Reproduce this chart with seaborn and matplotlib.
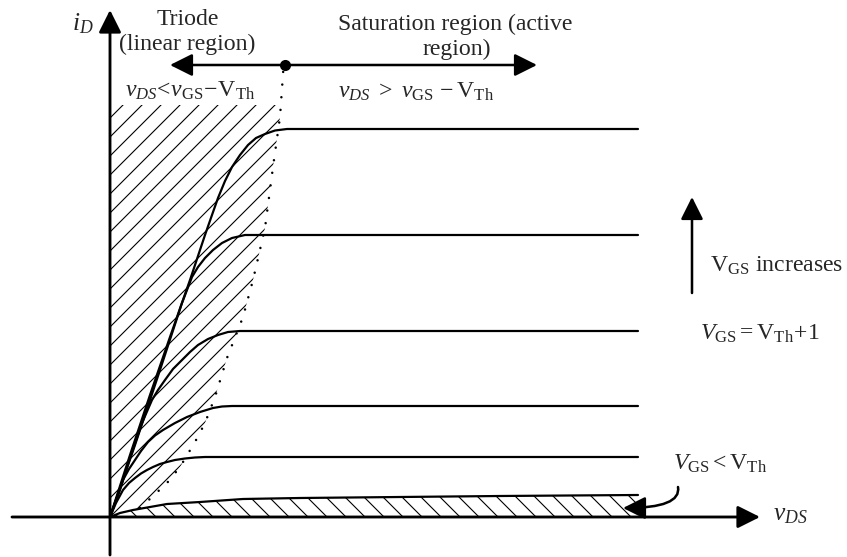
import numpy as np
import pandas as pd
import matplotlib
matplotlib.use("Agg")
import matplotlib.pyplot as plt
import seaborn as sns

# ---- data (arbitrary units: v_DS horizontal, i_D vertical) ----
curve_names = ["c1", "c2", "c3", "c4", "c5", "cutoff"]
c1_v = [0, 20, 40, 60, 80, 95, 102, 108, 115, 122, 130, 138, 146, 155, 165, 177, 528]
c1_i = [0, 62, 122, 180, 237, 282, 302, 319, 336, 350, 362, 372, 379, 383, 386.5, 388, 388]
c2_v = [0, 25, 50, 72, 82, 88, 95, 103, 112, 122, 135, 145, 528]
c2_i = [0, 72, 147, 214, 240, 250, 259, 267, 274, 279, 282, 282, 282]
c3_v = [0, 10, 20, 32, 42, 48, 55, 63, 72, 80, 88, 98, 108, 118, 130, 528]
c3_i = [0, 27, 59, 94, 117, 127, 137, 148, 157, 165, 172, 178, 182, 185, 186, 186]
c4_v = [0, 6, 13, 19, 25, 31, 38, 45, 53, 65, 77, 90, 103, 112, 122, 528]
c4_i = [0, 17, 37, 48, 57, 66, 75, 81.5, 87, 94, 100, 105, 109, 110.5, 111, 111]
c5_v = [0, 6, 13, 19, 25, 31, 37, 43, 50, 57, 65, 75, 85, 95, 105, 528]
c5_i = [0, 14, 27, 34, 39, 43.5, 47, 50, 53, 55, 57, 58.5, 59.5, 60, 60, 60]
cut_v = [0, 10, 23, 40, 57, 90, 133, 190, 290, 390, 528]
cut_i = [0, 4, 7, 10, 13, 15, 18, 19, 20, 21, 22]

# boundary v_DS = v_GS - V_Th (dotted)
bnd_v = [30, 42, 57, 70, 85, 95, 105, 117, 133, 143, 155, 163, 170, 174]
bnd_i = [9, 20, 34, 50, 75, 94, 120, 159, 200, 237, 289, 350, 400, 457]

# triode hatched region outline
tri_v = [0, 30, 42, 57, 70, 85, 95, 105, 117, 133, 143, 155, 163, 170, 172, 0]
tri_i = [0, 9, 20, 34, 50, 75, 94, 120, 159, 200, 237, 289, 350, 400, 412, 412]

rows = []
for name, vs, ids in zip(curve_names,
                         [c1_v, c2_v, c3_v, c4_v, c5_v, cut_v],
                         [c1_i, c2_i, c3_i, c4_i, c5_i, cut_i]):
    for k, (v, i) in enumerate(zip(vs, ids)):
        rows.append({"curve": name, "order": k, "vds": v, "id": i})
df = pd.DataFrame(rows)

# ---- style ----
sns.set_theme(style="white")
plt.rcParams["font.family"] = ["Liberation Serif", "DejaVu Serif"]
plt.rcParams["mathtext.fontset"] = "custom"
plt.rcParams["mathtext.rm"] = "Liberation Serif"
plt.rcParams["mathtext.it"] = "Liberation Serif:italic"
plt.rcParams["mathtext.bf"] = "Liberation Serif:bold"
plt.rcParams["hatch.linewidth"] = 0.7
plt.rcParams["hatch.color"] = "black"

DPI = 114
fig = plt.figure(figsize=(847 / DPI, 557 / DPI), dpi=DPI, facecolor="white")
ax = fig.add_axes([0, 0, 1, 1])

# hatched regions
ax.fill(tri_v, tri_i, facecolor="none", edgecolor="black", linewidth=0,
        hatch="//")
ax.fill_between(cut_v, 0, cut_i, facecolor="none", edgecolor="black",
                linewidth=0, hatch="\\\\")

# characteristic curves
sns.lineplot(data=df, x="vds", y="id", units="curve", estimator=None,
             sort=False, color="black", linewidth=1.4, ax=ax, legend=False)

# dotted boundary
ax.plot(bnd_v, bnd_i, color="black", linewidth=1.6,
        linestyle=(0, (0.01, 5)), dash_capstyle="round")

ax.set_xlim(-110, 737)
ax.set_ylim(-40, 517)
ax.axis("off")

def arrow(x0, y0, x1, y1, lw=1.6, hl=1.2, hw=0.6, conn=None):
    props = dict(arrowstyle=f"-|>,head_length={hl},head_width={hw}",
                 color="black", lw=lw, shrinkA=0, shrinkB=0,
                 mutation_scale=10)
    if conn is not None:
        props["connectionstyle"] = conn
    ax.annotate("", xy=(x1, y1), xytext=(x0, y0), arrowprops=props)

# axes
arrow(-98, 0, 650, 0, lw=1.8)
arrow(0, -38, 0, 507, lw=1.8)

# region arrows
arrow(175, 452, 60, 452, lw=1.6)
arrow(175, 452, 427, 452, lw=1.6)
ax.plot([175], [452], "o", color="black", markersize=6)

# V_GS increases arrow
arrow(582, 224, 582, 320, lw=1.6)

# curved arrow to cutoff
arrow(568, 30, 513, 9, lw=1.6, conn="angle3,angleA=100,angleB=0")

fs = 15
ax.text(-38, 487, r"$i_D$", fontsize=fs + 1, ha="left", va="baseline")
ax.text(78, 492, "Triode", fontsize=fs, ha="center", va="baseline")
ax.text(77, 467, "(linear region)", fontsize=fs, ha="center", va="baseline")
ax.text(228, 487, "Saturation region (active", fontsize=fs, ha="left",
        va="baseline")
ax.text(347, 462, "region)", fontsize=fs, ha="center", va="baseline")
ax.text(15, 420, r"$v_{DS}\!<\!v_{\mathrm{GS}}\!-\!\mathrm{V}_{\mathrm{Th}}$",
        fontsize=fs, ha="left", va="baseline")
ax.text(228, 419, r"$v_{DS}\ >\ v_{\mathrm{GS}}\ \!-\mathrm{V}_{\mathrm{Th}}$",
        fontsize=fs, ha="left", va="baseline")
ax.text(600, 245, r"$\mathrm{V}_{\mathrm{GS}}$ increases", fontsize=fs,
        ha="left", va="baseline")
ax.text(590, 177, r"$V_{\mathrm{GS}} = \mathrm{V}_{\mathrm{Th}}\!+\!1$",
        fontsize=fs, ha="left", va="baseline")
ax.text(563, 47, r"$V_{\mathrm{GS}} < \mathrm{V}_{\mathrm{Th}}$",
        fontsize=fs, ha="left", va="baseline")
ax.text(663, -3, r"$v_{DS}$", fontsize=fs + 1, ha="left", va="baseline")

fig.savefig("out.png", dpi=DPI, facecolor="white")
